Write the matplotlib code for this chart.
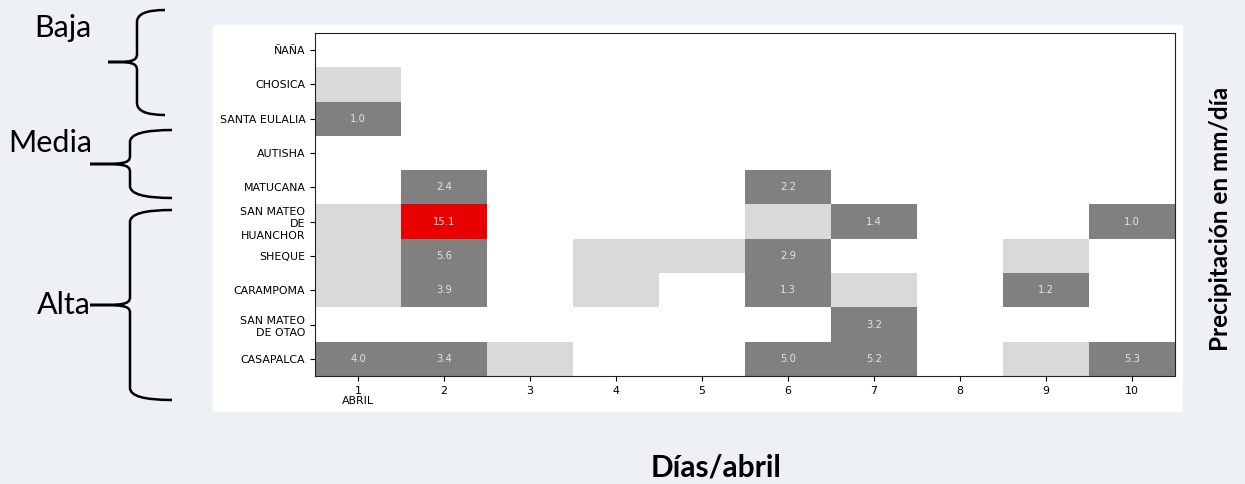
import numpy as np
import matplotlib
matplotlib.use("Agg")
from matplotlib import pyplot as plt
from matplotlib.colors import ListedColormap, BoundaryNorm
from matplotlib.patches import Rectangle, PathPatch
from matplotlib.path import Path

# station names, top to bottom
stations = ["ÑAÑA", "CHOSICA", "SANTA EULALIA", "AUTISHA", "MATUCANA",
            "SAN MATEO\nDE\nHUANCHOR", "SHEQUE", "CARAMPOMA",
            "SAN MATEO\nDE OTAO", "CASAPALCA"]
day_labels = ["1\nABRIL", "2", "3", "4", "5", "6", "7", "8", "9", "10"]

# mm/day; 0 = no rain, 0.5 = trace (< 1 mm, not labelled)
precip = np.array([
    [0.0, 0.0, 0.0, 0.0, 0.0, 0.0, 0.0, 0.0, 0.0, 0.0],   # ÑAÑA
    [0.5, 0.0, 0.0, 0.0, 0.0, 0.0, 0.0, 0.0, 0.0, 0.0],   # CHOSICA
    [1.0, 0.0, 0.0, 0.0, 0.0, 0.0, 0.0, 0.0, 0.0, 0.0],   # SANTA EULALIA
    [0.0, 0.0, 0.0, 0.0, 0.0, 0.0, 0.0, 0.0, 0.0, 0.0],   # AUTISHA
    [0.0, 2.4, 0.0, 0.0, 0.0, 2.2, 0.0, 0.0, 0.0, 0.0],   # MATUCANA
    [0.5, 15.1, 0.0, 0.0, 0.0, 0.5, 1.4, 0.0, 0.0, 1.0],  # SAN MATEO DE HUANCHOR
    [0.5, 5.6, 0.0, 0.5, 0.5, 2.9, 0.0, 0.0, 0.5, 0.0],   # SHEQUE
    [0.5, 3.9, 0.0, 0.5, 0.0, 1.3, 0.5, 0.0, 1.2, 0.0],   # CARAMPOMA
    [0.0, 0.0, 0.0, 0.0, 0.0, 0.0, 3.2, 0.0, 0.0, 0.0],   # SAN MATEO DE OTAO
    [4.0, 3.4, 0.5, 0.0, 0.0, 5.0, 5.2, 0.0, 0.5, 5.3],   # CASAPALCA
])

W, H = 1245, 484
fig = plt.figure(figsize=(W / 100, H / 100), dpi=100, facecolor="#edf0f5")
# white panel behind the heatmap
fig.patches.append(Rectangle((213 / W, 1 - 412 / H), 970 / W, 387 / H,
                             transform=fig.transFigure, facecolor="white",
                             edgecolor="none", zorder=-5))

ax = fig.add_axes([315 / W, 1 - 376 / H, 860 / W, 343 / H])
cmap = ListedColormap(["white", "#d9d9d9", "#808080", "#e80000"])
norm = BoundaryNorm([0, 0.1, 1, 10, 20], cmap.N)
ax.imshow(precip, cmap=cmap, norm=norm, aspect="auto", interpolation="nearest")

for i in range(precip.shape[0]):
    for j in range(precip.shape[1]):
        if precip[i, j] >= 1:
            ax.text(j, i, f"{precip[i, j]:.1f}", ha="center", va="center",
                    color="#e3e3e3", fontsize=7.2)

ax.set_xticks(range(len(day_labels)))
ax.set_xticklabels(day_labels, fontsize=7.9, linespacing=1.05)
ax.set_yticks(range(len(stations)))
ax.set_yticklabels(stations, fontsize=7.9, linespacing=1.25)
for sp in ax.spines.values():
    sp.set_color("#222222")
    sp.set_linewidth(0.8)

# overlay in pixel coords for braces and outer labels
ov = fig.add_axes([0, 0, 1, 1], zorder=-1)
ov.set_xlim(0, W)
ov.set_ylim(H, 0)
ov.axis("off")


def brace(xe, xv, xt, yt, ym, yb, r=12):
    verts = [(xe, yt), (xv, yt), (xv, yt + r),
             (xv, ym - 8),
             (xv, ym), (xv - 8, ym), (xt, ym),
             (xv - 8, ym), (xv, ym), (xv, ym + 8),
             (xv, yb - r),
             (xv, yb), (xe, yb)]
    codes = [Path.MOVETO, Path.CURVE3, Path.CURVE3,
             Path.LINETO,
             Path.CURVE4, Path.CURVE4, Path.CURVE4,
             Path.CURVE4, Path.CURVE4, Path.CURVE4,
             Path.LINETO,
             Path.CURVE3, Path.CURVE3]
    ov.add_patch(PathPatch(Path(verts, codes), facecolor="none",
                           edgecolor="black", linewidth=1.8))


brace(165, 137, 108, 10, 62, 115)
brace(172, 130, 90, 130, 164, 198)
brace(172, 130, 90, 210, 305, 400)

lab_font = "Lato"
ov.text(63, 37, "Baja", fontsize=22, family=lab_font, ha="center", va="baseline")
ov.text(50, 152, "Media", fontsize=22, family=lab_font, ha="center", va="baseline")
ov.text(64, 314, "Alta", fontsize=22, family=lab_font, ha="center", va="baseline")

ov.text(1221, 219, "Precipitación en mm/día", rotation=90, fontsize=17.5,
        fontweight="bold", family=lab_font, ha="center", va="center")
ov.text(716, 477, "Días/abril", fontsize=21.5, fontweight="bold",
        family=lab_font, ha="center", va="baseline")

fig.savefig("out.png", dpi=100, facecolor=fig.get_facecolor())
